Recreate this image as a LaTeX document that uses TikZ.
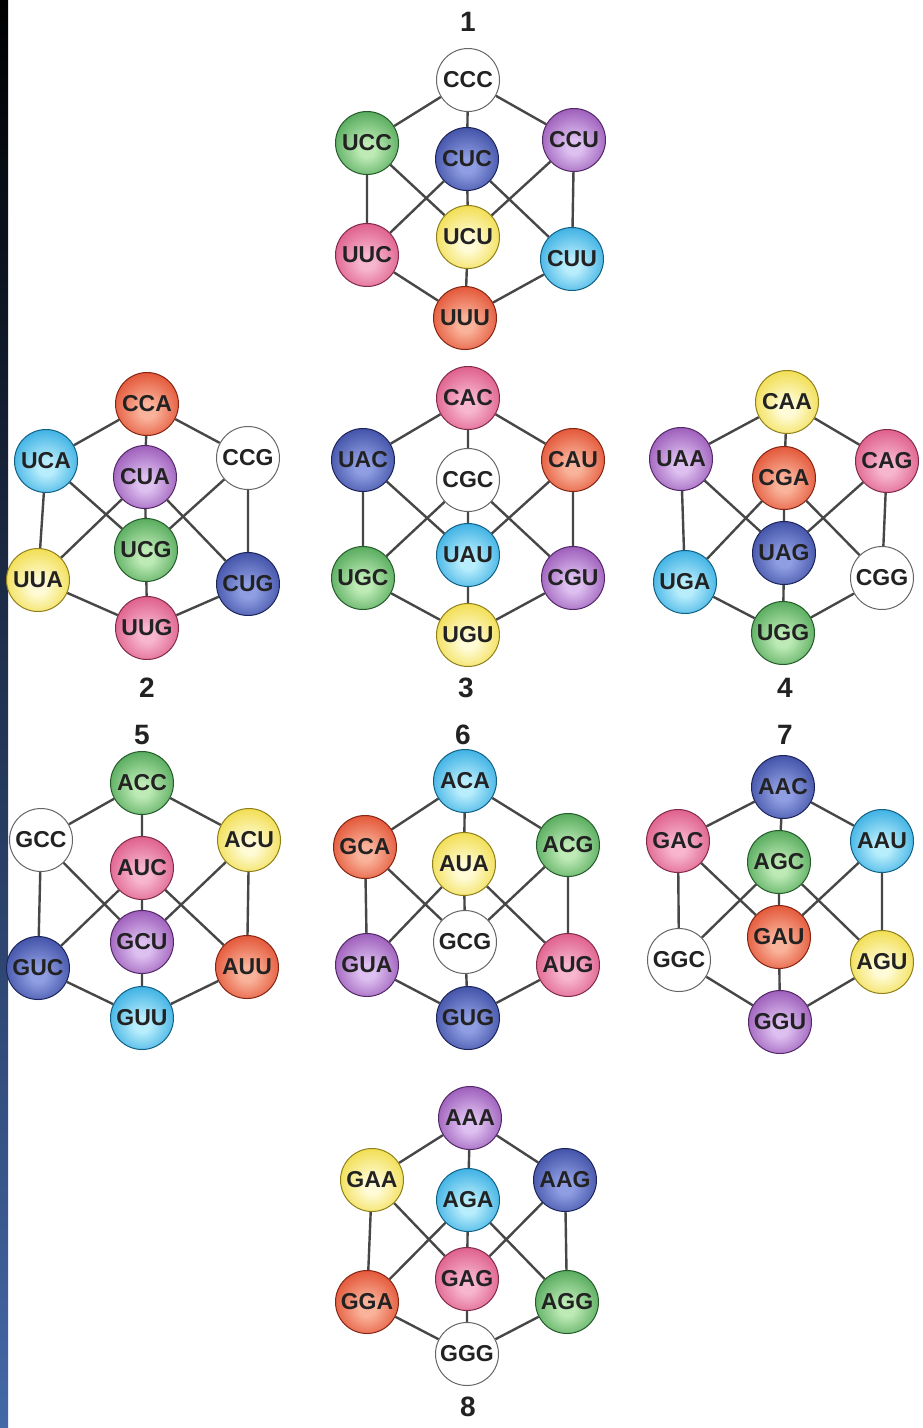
\documentclass[tikz,border=0pt]{standalone}
\usepackage{fontspec}
\setmainfont{Liberation Sans}
\pgfdeclarelayer{bg}
\pgfsetlayers{bg,main}
\definecolor{txt}{HTML}{222222}
\definecolor{edgec}{HTML}{474747}
\definecolor{gO}{HTML}{3C9A46}\definecolor{gI}{HTML}{BDEAB5}
\definecolor{bO}{HTML}{2E3E98}\definecolor{bI}{HTML}{8F9EE2}
\definecolor{pO}{HTML}{8C43AC}\definecolor{pI}{HTML}{DDC0F0}
\definecolor{kO}{HTML}{D8487A}\definecolor{kI}{HTML}{F7B6CE}
\definecolor{yO}{HTML}{EED62E}\definecolor{yI}{HTML}{FFFBD6}
\definecolor{cO}{HTML}{1DA1DD}\definecolor{cI}{HTML}{B8EDFC}
\definecolor{rO}{HTML}{DE3E1E}\definecolor{rI}{HTML}{F9B39B}
\pgfdeclareradialshading{shG}{\pgfpoint{0bp}{-6bp}}{color(0bp)=(gI); color(6bp)=(gI); color(34bp)=(gO); color(50bp)=(gO!85!black)}
\pgfdeclareradialshading{shB}{\pgfpoint{0bp}{-6bp}}{color(0bp)=(bI); color(6bp)=(bI); color(34bp)=(bO); color(50bp)=(bO!85!black)}
\pgfdeclareradialshading{shP}{\pgfpoint{0bp}{-6bp}}{color(0bp)=(pI); color(6bp)=(pI); color(34bp)=(pO); color(50bp)=(pO!85!black)}
\pgfdeclareradialshading{shK}{\pgfpoint{0bp}{-6bp}}{color(0bp)=(kI); color(6bp)=(kI); color(34bp)=(kO); color(50bp)=(kO!85!black)}
\pgfdeclareradialshading{shY}{\pgfpoint{0bp}{-6bp}}{color(0bp)=(yI); color(6bp)=(yI); color(34bp)=(yO); color(50bp)=(yO!85!black)}
\pgfdeclareradialshading{shC}{\pgfpoint{0bp}{-6bp}}{color(0bp)=(cI); color(6bp)=(cI); color(34bp)=(cO); color(50bp)=(cO!85!black)}
\pgfdeclareradialshading{shR}{\pgfpoint{0bp}{-6bp}}{color(0bp)=(rI); color(6bp)=(rI); color(34bp)=(rO); color(50bp)=(rO!85!black)}
\tikzset{
  cod/.style={circle, minimum size=63pt, inner sep=0pt, line width=1pt,
    font=\fontsize{23}{23}\selectfont\bfseries, text=txt},
  Gr/.style={cod, shading=shG, draw=gO!60!black},
  Bl/.style={cod, shading=shB, draw=bO!60!black},
  Pu/.style={cod, shading=shP, draw=pO!60!black},
  Pk/.style={cod, shading=shK, draw=kO!60!black},
  Ye/.style={cod, shading=shY, draw=yO!60!black},
  Cy/.style={cod, shading=shC, draw=cO!60!black},
  Rd/.style={cod, shading=shR, draw=rO!60!black},
  Wh/.style={cod, fill=white, draw=black!60},
  num/.style={font=\fontsize{28}{28}\selectfont\bfseries, text=txt},
  edge/.style={draw=edgec, line width=2.4pt},
}
\newcommand\cubelinks[1]{%
  \begin{pgfonlayer}{bg}
  \draw[edge] (#1T)--(#1L) (#1T)--(#1R) (#1T)--(#1I) (#1I)--(#1J)
    (#1L)--(#1P) (#1R)--(#1Q) (#1L)--(#1J) (#1R)--(#1J)
    (#1I)--(#1P) (#1I)--(#1Q) (#1P)--(#1B) (#1Q)--(#1B) (#1J)--(#1B);
  \end{pgfonlayer}}
\begin{document}
\begin{tikzpicture}[x=1pt,y=-1pt]
\begin{pgfonlayer}{bg}
\fill[white] (0,0) rectangle (922,1428);
\shade[top color=black, middle color=black!70!blue!60!cyan!40!black, bottom color={rgb,255:red,68;green,104;blue,168}] (0,0) rectangle (8,1428);
\end{pgfonlayer}
\useasboundingbox (0,0) rectangle (922,1428);

% cube 1
\node[num] (l1) at (468,22) {1};
\node[Wh] (aT) at (468,80) {CCC};
\node[Gr] (aL) at (367,143) {UCC};
\node[Pu] (aR) at (574,140) {CCU};
\node[Bl] (aI) at (467,159) {CUC};
\node[Ye] (aJ) at (468,237) {UCU};
\node[Pk] (aP) at (367,255) {UUC};
\node[Cy] (aQ) at (572,259) {CUU};
\node[Rd] (aB) at (465,318) {UUU};
\cubelinks{a}

% cube 2
\node[num] (l2) at (147,688) {2};
\node[Rd] (bT) at (147,404) {CCA};
\node[Cy] (bL) at (46,461) {UCA};
\node[Wh] (bR) at (248,458) {CCG};
\node[Pu] (bI) at (145,477) {CUA};
\node[Gr] (bJ) at (146,550) {UCG};
\node[Ye] (bP) at (38,580) {UUA};
\node[Bl] (bQ) at (248,584) {CUG};
\node[Pk] (bB) at (147,628) {UUG};
\cubelinks{b}

% cube 3
\node[num] (l3) at (466,688) {3};
\node[Pk] (cT) at (468,398) {CAC};
\node[Bl] (cL) at (363,460) {UAC};
\node[Rd] (cR) at (573,460) {CAU};
\node[Wh] (cI) at (468,480) {CGC};
\node[Cy] (cJ) at (468,555) {UAU};
\node[Gr] (cP) at (363,578) {UGC};
\node[Pu] (cQ) at (573,578) {CGU};
\node[Ye] (cB) at (468,635) {UGU};
\cubelinks{c}

% cube 4
\node[num] (l4) at (785,688) {4};
\node[Ye] (dT) at (787,402) {CAA};
\node[Pu] (dL) at (681,459) {UAA};
\node[Pk] (dR) at (887,461) {CAG};
\node[Rd] (dI) at (784,478) {CGA};
\node[Bl] (dJ) at (784,553) {UAG};
\node[Cy] (dP) at (685,582) {UGA};
\node[Wh] (dQ) at (882,578) {CGG};
\node[Gr] (dB) at (783,633) {UGG};
\cubelinks{d}

% cube 5
\node[num] (l5) at (142,735) {5};
\node[Gr] (eT) at (142,783) {ACC};
\node[Wh] (eL) at (41,840) {GCC};
\node[Ye] (eR) at (249,840) {ACU};
\node[Pk] (eI) at (142,868) {AUC};
\node[Pu] (eJ) at (142,942) {GCU};
\node[Bl] (eP) at (38,968) {GUC};
\node[Rd] (eQ) at (247,967) {AUU};
\node[Cy] (eB) at (142,1018) {GUU};
\cubelinks{e}

% cube 6
\node[num] (l6) at (463,735) {6};
\node[Cy] (fT) at (465,781) {ACA};
\node[Rd] (fL) at (365,847) {GCA};
\node[Gr] (fR) at (568,845) {ACG};
\node[Ye] (fI) at (464,864) {AUA};
\node[Wh] (fJ) at (465,942) {GCG};
\node[Pu] (fP) at (367,965) {GUA};
\node[Pk] (fQ) at (568,965) {AUG};
\node[Bl] (fB) at (468,1018) {GUG};
\cubelinks{f}

% cube 7
\node[num] (l7) at (785,735) {7};
\node[Bl] (gT) at (783,787) {AAC};
\node[Pk] (gL) at (678,841) {GAC};
\node[Cy] (gR) at (882,841) {AAU};
\node[Gr] (gI) at (779,862) {AGC};
\node[Rd] (gJ) at (779,937) {GAU};
\node[Wh] (gP) at (679,960) {GGC};
\node[Ye] (gQ) at (882,962) {AGU};
\node[Pu] (gB) at (780,1022) {GGU};
\cubelinks{g}

% cube 8
\node[num] (l8) at (468,1407) {8};
\node[Pu] (hT) at (470,1118) {AAA};
\node[Ye] (hL) at (372,1180) {GAA};
\node[Bl] (hR) at (565,1180) {AAG};
\node[Cy] (hI) at (468,1200) {AGA};
\node[Pk] (hJ) at (467,1279) {GAG};
\node[Rd] (hP) at (367,1302) {GGA};
\node[Gr] (hQ) at (567,1302) {AGG};
\node[Wh] (hB) at (467,1354) {GGG};
\cubelinks{h}
\end{tikzpicture}
\end{document}
